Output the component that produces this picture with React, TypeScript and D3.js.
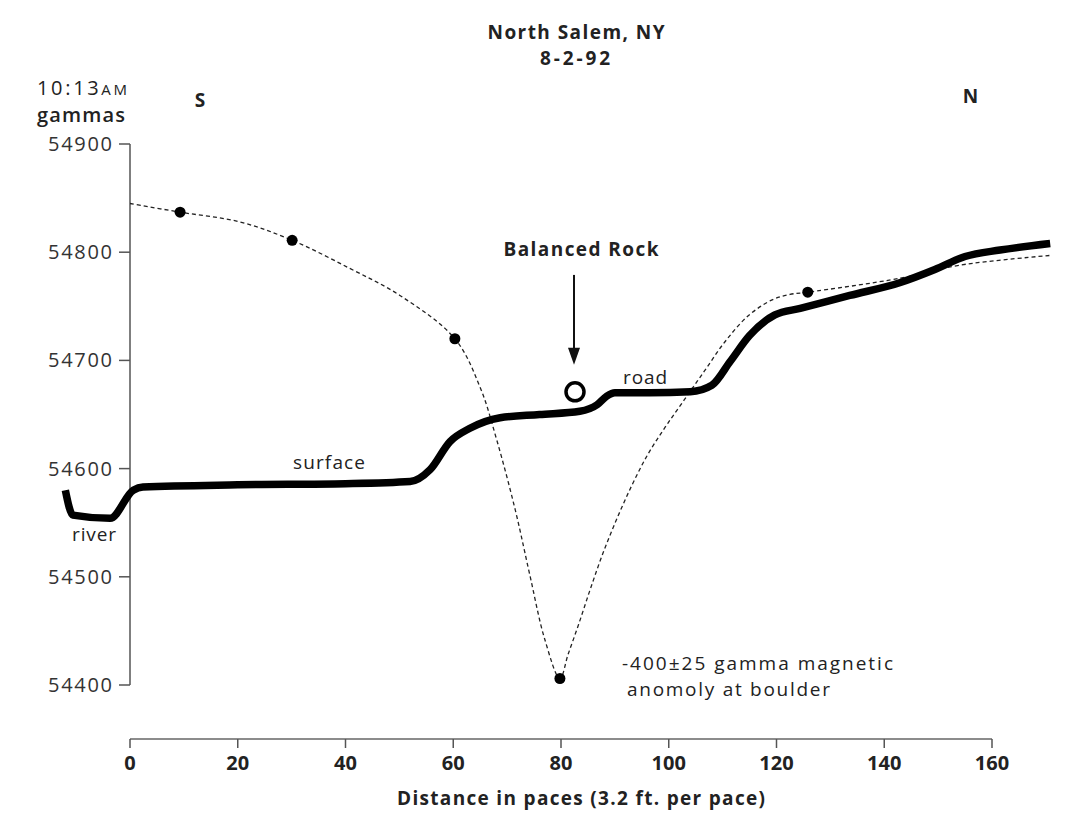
import React from 'react';
import * as d3 from 'd3';

// Thick surface profile (paces, gammas-scale elevation)
const surfacePaces = [-12, -10.6, -3.7, 0.6, 2.4, 20, 40, 52, 55.7, 59.4, 63, 68.7, 76, 83.5, 86.7, 88.5, 90, 96.5, 104, 108, 111.4, 115, 119.7, 124.4, 133.6, 143, 149.4, 155, 161.5, 170.8];
const surfaceGammas = [54580, 54557, 54554, 54580, 54583, 54585, 54586, 54588, 54599, 54625, 54637, 54647, 54650, 54653, 54659, 54667, 54670, 54670, 54671, 54677, 54699, 54723, 54742, 54748, 54760, 54772, 54784, 54796, 54802, 54808];

// Dashed magnetic curve
const curvePaces = [0, 9.3, 20.4, 30.1, 40.8, 50.1, 60.3, 65, 68.1, 71.5, 74.2, 77, 79.8, 81.3, 83.2, 85.4, 87.8, 90.4, 93.2, 96.1, 99.3, 102.8, 106.6, 110.4, 114.7, 119.2, 122.5, 125.8, 143, 154, 170.8];
const curveGammas = [54845, 54837, 54828, 54811, 54785, 54760, 54720, 54675, 54626, 54562, 54502, 54442, 54406, 54428, 54455, 54488, 54522, 54554, 54585, 54613, 54638, 54663, 54690, 54717, 54741, 54756, 54761, 54763, 54776, 54788, 54797];

// Measured readings
const readingPaces = [9.3, 30.1, 60.3, 79.8, 125.8];
const readingGammas = [54837, 54811, 54720, 54406, 54763];

const xTicks = [0, 20, 40, 60, 80, 100, 120, 140, 160];
const yTicks = [54400, 54500, 54600, 54700, 54800, 54900];

const rockPace = 82.6;
const rockGamma = 54671;

const FONT = "'Open Sans', 'DejaVu Sans', sans-serif";

export default function App() {
  const W = 1067, H = 817;
  const x = d3.scaleLinear().domain([0, 160]).range([130, 992]);
  const y = d3.scaleLinear().domain([54400, 54900]).range([685, 144]);

  const surfaceData = surfacePaces.map((p, i) => [p, surfaceGammas[i]] as [number, number]);
  const curveData = curvePaces.map((p, i) => [p, curveGammas[i]] as [number, number]);

  const surfaceLine = d3.line<[number, number]>().x(d => x(d[0])).y(d => y(d[1])).curve(d3.curveMonotoneX);
  const curveLine = d3.line<[number, number]>().x(d => x(d[0])).y(d => y(d[1])).curve(d3.curveCatmullRom.alpha(0.5));

  const axisY = 739;
  const ax = x(0);
  const rx = x(rockPace), ry = y(rockGamma);
  const arrowTop = y(54779), arrowTip = y(54696);

  const T = (props: any) => <text lengthAdjust="spacing" fill="#222" {...props} />;

  return (
    <svg width={W} height={H} style={{ position: 'absolute', left: 0, top: 0, background: '#fff' }} fontFamily={FONT}>
      <rect width={W} height={H} fill="#fff" />
      {/* Title */}
      <T x={576} y={39} textAnchor="middle" fontSize={19} fontWeight={700} textLength={177}>North Salem, NY</T>
      <T x={575} y={65} textAnchor="middle" fontSize={19} fontWeight={700} textLength={70}>8-2-92</T>

      {/* Y axis header */}
      <T x={37} y={95} fontSize={20} textLength={90}>10:13<tspan fontSize={15}>AM</tspan></T>
      <T x={37} y={122} fontSize={20} fontWeight={600} textLength={88}>gammas</T>
      <T x={x(13)} y={107} textAnchor="middle" fontSize={19} fontWeight={700}>S</T>
      <T x={x(156)} y={103} textAnchor="middle" fontSize={19} fontWeight={700}>N</T>

      {/* Y axis */}
      <line x1={ax} x2={ax} y1={y(54900)} y2={y(54400)} stroke="#555" strokeWidth={1.5} />
      {yTicks.map(t => (
        <g key={t}>
          <line x1={ax - 11} x2={ax} y1={y(t)} y2={y(t)} stroke="#555" strokeWidth={1.5} />
          <T x={ax - 82} y={y(t) + 7} fontSize={20} fill="#333" textLength={64}>{t}</T>
        </g>
      ))}

      {/* X axis */}
      <line x1={x(0)} x2={x(160)} y1={axisY} y2={axisY} stroke="#666" strokeWidth={1.5} />
      {xTicks.map(t => (
        <g key={t}>
          <line x1={x(t)} x2={x(t)} y1={axisY} y2={axisY + 9} stroke="#555" strokeWidth={1.5} />
          <text x={x(t)} y={axisY + 31} textAnchor="middle" fontSize={20} fontWeight={700} fill="#222">{t}</text>
        </g>
      ))}
      <T x={581} y={805} textAnchor="middle" fontSize={19} fontWeight={700} textLength={368}>Distance in paces (3.2 ft. per pace)</T>

      {/* Dashed magnetic curve */}
      <path d={curveLine(curveData) || ''} fill="none" stroke="#222" strokeWidth={1.3} strokeDasharray="4,3" />

      {/* Surface */}
      <path d={surfaceLine(surfaceData) || ''} fill="none" stroke="#000" strokeWidth={7.5} strokeLinejoin="round" />

      {/* Readings */}
      {readingPaces.map((p, i) => (
        <circle key={i} cx={x(p)} cy={y(readingGammas[i])} r={5.5} fill="#000" />
      ))}

      {/* Balanced rock */}
      <circle cx={rx} cy={ry} r={9} fill="#fff" stroke="#000" strokeWidth={3.5} />
      <line x1={rx - 1} x2={rx - 1} y1={arrowTop} y2={arrowTip - 14} stroke="#111" strokeWidth={2} />
      <path d={`M${rx - 7},${arrowTip - 17} L${rx + 5},${arrowTip - 17} L${rx - 1},${arrowTip} Z`} fill="#111" />
      <T x={581} y={256} textAnchor="middle" fontSize={19} fontWeight={700} textLength={155}>Balanced Rock</T>

      {/* Labels */}
      <T x={645} y={384} textAnchor="middle" fontSize={19} textLength={44}>road</T>
      <T x={329} y={469} textAnchor="middle" fontSize={19} textLength={72}>surface</T>
      <T x={94} y={541} textAnchor="middle" fontSize={19} textLength={44}>river</T>
      <T x={622} y={670} fontSize={19} textLength={271}>-400±25 gamma magnetic</T>
      <T x={627} y={696} fontSize={19} textLength={203}>anomoly at boulder</T>
    </svg>
  );
}
